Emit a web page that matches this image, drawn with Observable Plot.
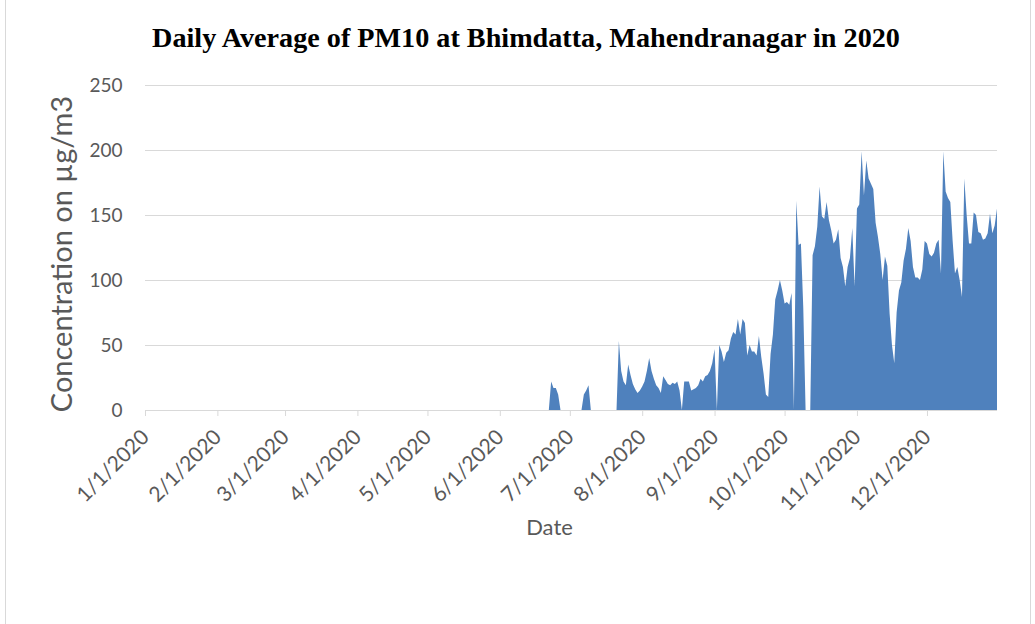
<!DOCTYPE html>
<html><head><meta charset="utf-8">
<script src="https://cdn.jsdelivr.net/npm/d3@7"></script>
<script src="https://cdn.jsdelivr.net/npm/@observablehq/plot@0.6"></script>
<style>
html,body{margin:0;padding:0;background:#fff;width:1035px;height:624px;overflow:hidden;}
#frame{position:absolute;left:5px;top:-1px;width:1026px;height:630px;border:1px solid #d9d9d9;box-sizing:border-box;}
#title{position:absolute;top:24px;left:526px;transform:translateX(-50%);white-space:nowrap;font-weight:bold;font-size:24px;font-family:"Liberation Serif",serif;color:#000;line-height:1;}
#chart{position:absolute;left:0;top:70px;}
</style></head><body>
<div id="frame"></div>
<div id="title">Daily Average of PM10 at Bhimdatta, Mahendranagar in 2020</div>
<div id="chart"></div>
<script>
// Daily PM10 values (µg/m3); days before 21 June have no data (drawn as 0)
const june21to30 = [0, 0, 22, 17, 17, 12, 0, 0, 0, 0];
const july = [0, 0, 0, 0, 0, 0, 12, 15, 19, 0, 0, 0, 0, 0, 0, 0, 0, 0, 0, 0, 0, 53, 30, 22, 19, 35, 27, 20, 16, 13, 15];
const august = [18, 22, 30, 40, 30, 24, 19, 17, 13, 26, 23, 20, 19, 21, 20, 22, 15, 0, 22, 22, 22, 15, 16, 17, 19, 24, 22, 26, 27, 30, 36];
const september = [47, 0, 50, 45, 37, 44, 46, 55, 60, 58, 70, 58, 70, 67, 42, 50, 45, 45, 42, 57, 41, 28, 12, 10, 43, 58, 85, 92, 100, 92];
const october = [82, 83, 81, 90, 0, 161, 127, 128, 79, 0, 0, 0, 119, 126, 141, 172, 149, 147, 160, 146, 138, 128, 131, 139, 117, 110, 95, 110, 117, 140, 95];
const november = [155, 158, 199, 165, 192, 178, 174, 170, 144, 133, 120, 100, 118, 111, 74, 50, 36, 75, 92, 98, 115, 124, 140, 130, 110, 102, 102, 100, 108, 130];
const december = [128, 120, 118, 121, 128, 131, 105, 199, 168, 163, 160, 130, 105, 110, 100, 87, 178, 150, 128, 128, 152, 150, 137, 136, 131, 132, 136, 151, 136, 142, 155];

const blocks = [[5, 21, june21to30], [6, 1, july], [7, 1, august], [8, 1, september], [9, 1, october], [10, 1, november], [11, 1, december]];
const monthLabels = ["1/1/2020","2/1/2020","3/1/2020","4/1/2020","5/1/2020","6/1/2020","7/1/2020","8/1/2020","9/1/2020","10/1/2020","11/1/2020","12/1/2020"];
const yTicks = [0, 50, 100, 150, 200, 250];

const rows = [];
for (const [m, d0, vals] of blocks) {
  vals.forEach((v, i) => rows.push({date: new Date(Date.UTC(2020, m, d0 + i)), value: v}));
}
const monthTicks = monthLabels.map((_, i) => new Date(Date.UTC(2020, i, 1)));
const labelOf = new Map(monthTicks.map((d, i) => [+d, monthLabels[i]]));

const chart = Plot.plot({
  width: 1035, height: 554,
  marginLeft: 145, marginRight: 38, marginTop: 15, marginBottom: 214,
  style: {fontFamily: "Lato, sans-serif", color: "#595959", background: "transparent", overflow: "visible"},
  x: {type: "utc", domain: [new Date(Date.UTC(2020, 0, 1)), new Date(Date.UTC(2020, 11, 31))]},
  y: {domain: [0, 250]},
  marks: [
    Plot.gridY(yTicks.filter(v => v > 0), {stroke: "#d9d9d9", strokeOpacity: 1, strokeWidth: 1}),
    Plot.areaY(rows, {x: "date", y: "value", fill: "#4f81bd", curve: "linear"}),
    Plot.ruleY([0], {stroke: "#d9d9d9", strokeWidth: 1}),
    Plot.axisX(monthTicks, {tickSize: 6, stroke: "#d9d9d9", strokeOpacity: 1, label: null, text: null}),
    Plot.axisX(monthTicks, {tickSize: 0, tickRotate: -45, tickPadding: 23, dx: 0,
      tickFormat: d => labelOf.get(+d), fontSize: 21, fill: "#595959", label: null}),
    Plot.axisY(yTicks, {tickSize: 0, tickPadding: 23, fontSize: 19, fill: "#595959", label: null}),
    Plot.text(["Concentration on µg/m3"], {frameAnchor: "left", dx: -83, dy: 6, rotate: -90, fontSize: 29, fill: "#595959", textAnchor: "middle"}),
    Plot.text(["Date"], {frameAnchor: "bottom", dx: -22, dy: 124, fontSize: 22, fill: "#595959", textAnchor: "middle"})
  ]
});
document.getElementById("chart").appendChild(chart);

// fit title to its width in the reference
const t = document.getElementById("title");
const w = t.getBoundingClientRect().width;
t.style.fontSize = (24 * 748 / w).toFixed(2) + "px";
</script>
</body></html>
